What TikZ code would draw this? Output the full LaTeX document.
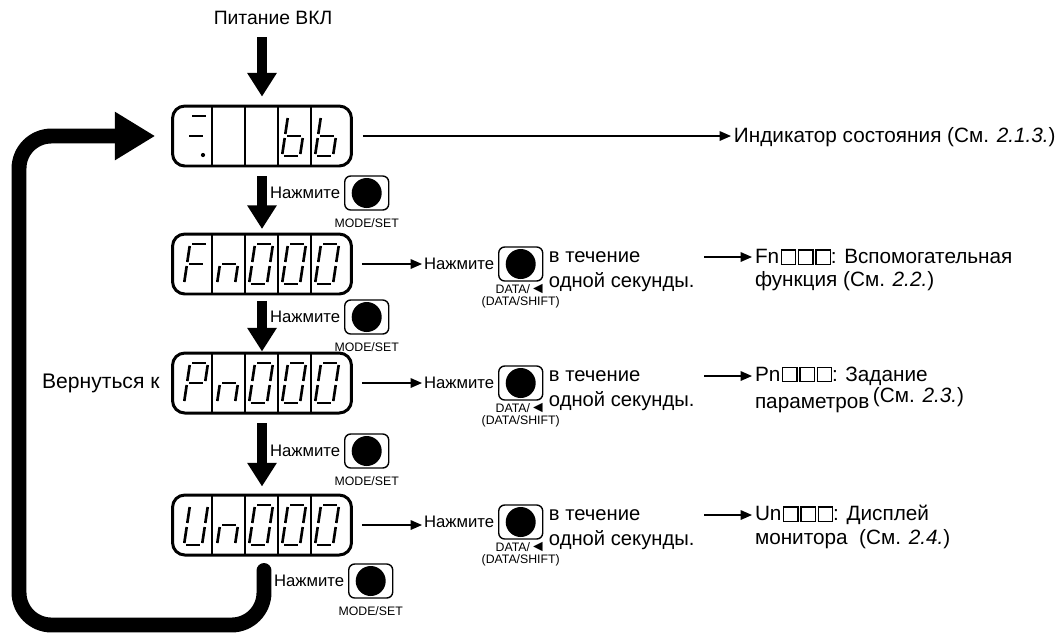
\documentclass[tikz,border=0pt]{standalone}
\usepackage{fontspec}
\setmainfont{Liberation Sans}
\usetikzlibrary{arrows.meta,positioning,calc}

\newcommand{\segdigit}[2]{%
  \begin{scope}[shift={(#1,0)}, xslant=0.15]
    \foreach \k in {#2} {%
      \ifcase\k\relax
        \draw[seg] (-7,-20) -- (7,-20);
      \or \draw[seg] (9,-18) -- (9,-2);
      \or \draw[seg] (9,2) -- (9,18);
      \or \draw[seg] (-7,20) -- (7,20);
      \or \draw[seg] (-9,2) -- (-9,18);
      \or \draw[seg] (-9,-18) -- (-9,-2);
      \or \draw[seg] (-7,0) -- (7,0);
      \fi}
  \end{scope}}
\newcommand{\sqbox}{\kern1pt{\setlength{\fboxsep}{0pt}\setlength{\fboxrule}{0.7pt}\fbox{\rule{0pt}{7.4pt}\rule{7.4pt}{0pt}}}}

\tikzset{
  lcd/.style={draw, line width=1.7pt, rounded corners=7pt, minimum width=3.58cm, minimum height=1.2cm, inner sep=0pt},
  seg/.style={line width=1.5pt},
  btn/.style={draw, line width=0.8pt, rounded corners=3.4pt, minimum width=0.88cm, minimum height=0.68cm, inner sep=0pt,
    path picture={\fill (path picture bounding box.center) circle (0.3cm);}},
  push/.style={font=\fontsize{9.5}{11}\selectfont, inner sep=1pt},
  keylbl/.style={font=\fontsize{7}{7.3}\selectfont, inner sep=0pt},
  txt/.style={font=\fontsize{11.8}{13}\selectfont, inner sep=1.5pt, anchor=west},
  hold/.style={font=\fontsize{11.5}{13}\selectfont, inner sep=1.5pt, anchor=west},
  fatdown/.style={line width=5.7pt, -{Triangle[length=13.5pt,width=16pt]}},
  arr/.style={line width=0.75pt, -{Triangle[length=6.5pt,width=5.5pt]}},
  backarrow/.style={line width=8.5pt, rounded corners=0.65cm, line cap=round, -{Triangle[length=23pt,width=26pt]}},
}

\begin{document}
\begin{tikzpicture}[x=0.02cm, y=-0.02cm]
  \useasboundingbox (0,0) rectangle (1057,637);

  \node[font=\fontsize{11}{13}\selectfont] (pwr) at (273,18) {Питание ВКЛ};

  \node[lcd] (disp1) at (262,136) {};
  \node[lcd] (disp2) at (262,264) {};
  \node[lcd] (disp3) at (262,383) {};
  \node[lcd] (disp4) at (262,525) {};
  \foreach \i in {1,...,4}
    \foreach \s in {-50,-17,16,49}
      \draw[line width=1.4pt] ($(disp\i.center)+(\s,-30)$) -- ($(disp\i.center)+(\s,30)$);

  \begin{scope}[shift={(disp1.center)}]
    \segdigit{-66}{0,6}
    \fill (-59,19) circle (1.2pt);
    \segdigit{32}{2,3,4,5,6}
    \segdigit{65}{2,3,4,5,6}
  \end{scope}
  \begin{scope}[shift={(disp2.center)}]
    \segdigit{-66}{0,4,5,6}
    \segdigit{-33}{2,4,6}
    \foreach \x in {-1,32,65} {\segdigit{\x}{0,1,2,3,4,5}}
  \end{scope}
  \begin{scope}[shift={(disp3.center)}]
    \segdigit{-66}{0,1,4,5,6}
    \segdigit{-33}{2,4,6}
    \foreach \x in {-1,32,65} {\segdigit{\x}{0,1,2,3,4,5}}
  \end{scope}
  \begin{scope}[shift={(disp4.center)}]
    \segdigit{-66}{1,2,3,4,5}
    \segdigit{-33}{2,4,6}
    \foreach \x in {-1,32,65} {\segdigit{\x}{0,1,2,3,4,5}}
  \end{scope}

  \draw[fatdown, shorten <=3.5pt, shorten >=4.5pt] (disp1.north |- pwr.south) -- (disp1.north);
  \foreach \a/\b/\s/\e in {1/2/5pt/2pt, 2/3/3pt/0pt, 3/4/5pt/4pt}
    \draw[fatdown, shorten <=\s, shorten >=\e] (disp\a.south) -- (disp\b.north);

  \foreach \r/\x/\Y in {1/268/193, 2/268/317, 3/268/451, 4/272/581} {
    \node[push, anchor=west] (push\r) at (\x,\Y) {Нажмите};
    \node[btn, right=1pt of push\r] (mode\r) {};
    \node[keylbl, below=4pt of mode\r] (modelbl\r) {MODE/SET};
  }

  \node[txt] (stat) at (731,137) {Индикатор состояния (См. \textit{2.1.3.})};
  \draw[arr, shorten <=5.7pt] (disp1.east) -- (disp1.east -| stat.west);

  \foreach \r/\Y/\ta/\tb in {2/264/{Fn\sqbox\sqbox\sqbox: Вспомогательная}/{функция (См. \textit{2.2.})},
      3/383/{Pn\sqbox\sqbox\sqbox: Задание}/{параметров\,\raisebox{3pt}{(См. \textit{2.3.})}},
      4/522/{Un\sqbox\sqbox\sqbox: Дисплей}/{монитора\ \ (См. \textit{2.4.})}} {
    \node[push, anchor=west] (data\r) at (422,\Y) {Нажмите};
    \node[btn, right=1pt of data\r] (btnd\r) {};
    \node[keylbl, below=1pt of btnd\r, align=center] (keyd\r) {DATA/{\fontsize{9}{9}\selectfont ◄}\\(DATA/SHIFT)};
    \node[hold] (holda\r) at (546,\Y-7) {в течение};
    \node[hold] (holdb\r) at (546,\Y+18) {одной секунды.};
    \node[txt] (resa\r) at (752,\Y-7) {\ta};
    \node[txt] (resb\r) at (752,\Y+17) {\tb};
    \draw[arr, shorten <=5pt] (disp\r.east) -- (disp\r.east -| data\r.west);
    \draw[arr, shorten <=4pt] (holdb\r.east |- resa\r.west) -- (resa\r.west);
  }

  \node[font=\fontsize{12}{14}\selectfont, left=3pt of disp3] (back) {Вернуться к};

  \coordinate (lp) at ($(disp4.south)+(2,14)$);
  \coordinate (lc) at (19,625);
  \draw[backarrow, shorten >=9pt] (lp) |- (lc) |- (disp1.west);
\end{tikzpicture}
\end{document}
